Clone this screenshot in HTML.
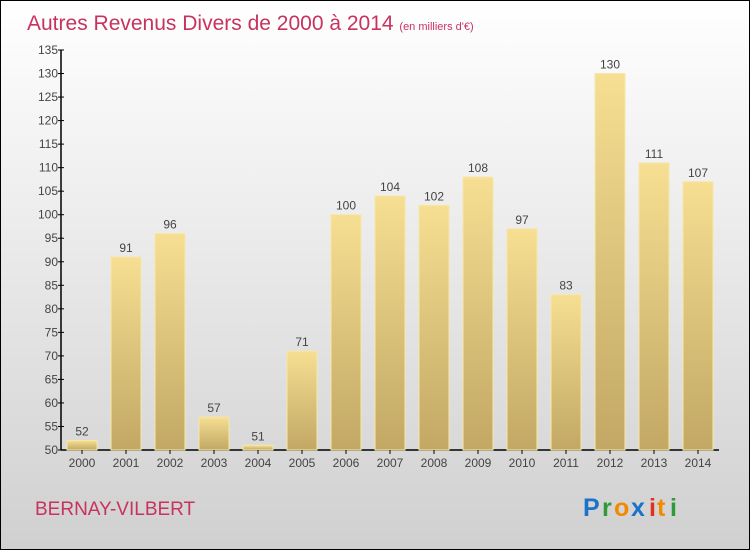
<!DOCTYPE html>
<html><head><meta charset="utf-8"><style>
body{margin:0}
#c{width:750px;height:550px;position:relative;box-sizing:border-box;border:1px solid #000;background:linear-gradient(#ffffff,#d0d0d0);font-family:"Liberation Sans",sans-serif;overflow:hidden}
</style></head><body>
<div id="c">
<svg width="748" height="548">
<defs><linearGradient id="g" x1="0" y1="0" x2="0" y2="1"><stop offset="0" stop-color="#f6de92"/><stop offset="1" stop-color="#c2a864"/></linearGradient></defs>
<text x="26" y="29" font-size="21" fill="#c8325f">Autres Revenus Divers de 2000 à 2014 <tspan font-size="11">(en milliers d'€)</tspan></text>
<g id="plot"></g>
<text x="34" y="514" font-size="19" fill="#c8325f">BERNAY-VILBERT</text>
<g font-size="25" font-weight="bold">
<text x="582" y="515" fill="#1a73c9">P</text><text x="601" y="515" fill="#2e9a3a">r</text><text x="613" y="515" fill="#f28a00">o</text><text x="630" y="515" fill="#1a73c9">x</text><text x="648" y="515" fill="#e03020">i</text><text x="656" y="515" fill="#f28a00">t</text><text x="669" y="515" fill="#2e9a3a">i</text></g>
</svg>
</div>
<script>
const categories=["2000","2001","2002","2003","2004","2005","2006","2007","2008","2009","2010","2011","2012","2013","2014"];
const values=[52,91,96,57,51,71,100,104,102,108,97,83,130,111,107];
const yTicks=[50,55,60,65,70,75,80,85,90,95,100,105,110,115,120,125,130,135];
const NS="http://www.w3.org/2000/svg";
const g=document.getElementById("plot");
const y0=449,y1=49,vmin=50,vmax=135;
const y=v=>y0-(v-vmin)*(y0-y1)/(vmax-vmin);
const x=i=>81+i*44;
function el(t,a){const e=document.createElementNS(NS,t);for(const k in a)e.setAttribute(k,a[k]);g.appendChild(e);return e;}
const ax=el("line",{x1:60,y1:y1,x2:60,y2:y0,stroke:"#000","stroke-width":1.5});


const bx=el("line",{x1:60,y1:y0,x2:718,y2:y0,stroke:"#000","stroke-width":1.5});


yTicks.forEach(v=>{
 const t=el("line",{x1:57,x2:63,y1:y(v),y2:y(v),stroke:"#000"});
 
 
 const l=el("text",{x:57,y:y(v)+4,"font-size":12,fill:"#444","text-anchor":"end"});
 l.textContent=v;
 
 
});
values.forEach((v,i)=>{
 const r=el("rect",{x:x(i)-15,y:y(v),width:30,height:y0-y(v),fill:"url(#g)",stroke:"#f8e7a8","stroke-width":1});
 
 
 const l=el("text",{x:x(i),y:y(v)-5,"font-size":12,fill:"#444","text-anchor":"middle"});
 l.textContent=v;
 
 
 const t=el("line",{x1:x(i),x2:x(i),y1:y0,y2:y0+4,stroke:"#000"});
 
 
 const c=el("text",{x:x(i),y:466,"font-size":12,fill:"#444","text-anchor":"middle"});
 c.textContent=categories[i];
 
 
});
</script>
</body></html>
